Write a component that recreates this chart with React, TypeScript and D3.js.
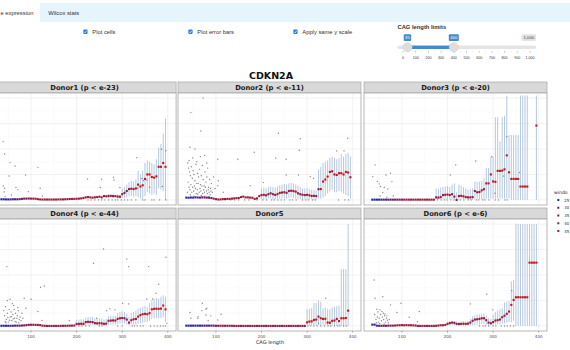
import React from 'react';
import * as d3 from 'd3';

// CAG length bins (window centres)
const cagBins = [35, 40, 45, 50, 55, 60, 65, 70, 75, 80, 85, 90, 95, 100, 105, 110, 115, 120, 125, 130,
  135, 140, 145, 150, 155, 160, 165, 170, 175, 180, 185, 190, 195, 200, 205, 210, 215, 220, 225, 230,
  235, 240, 245, 250, 255, 260, 265, 270, 275, 280, 285, 290, 295, 300, 305, 310, 315, 320, 325, 330,
  335, 340, 345, 350, 355, 360, 365, 370, 375, 380, 385, 390, 395, 400];

const xTicks = [100, 200, 300, 400];
const xMinorTicks = [50, 150, 250, 350];
const yTicks = [0, 2, 4, 6, 8];
const yMinorTicks = [1, 3, 5, 7];
const windowSizes = [25, 30, 35, 40, 45];
const sliderTicks = [0, 100, 200, 300, 400, 500, 600, 700, 800, 900, 1000];
const sliderRange = [35, 400];

const donorTitles = ['Donor1 (p < e-23)', 'Donor2 (p < e-11)', 'Donor3 (p < e-20)',
  'Donor4 (p < e-44)', 'Donor5', 'Donor6 (p < e-6)'];

// mean expression per bin
const meanDonor1 = [0.05, 0.05, 0.04, 0.04, 0.04, 0.05, 0.05, 0.05, 0.06, 0.08,
  0.10, 0.10, 0.11, 0.10, 0.10, 0.09, 0.06, 0.04, 0.03, 0.03,
  0.03, 0.03, 0.03, 0.03, 0.03, 0.04, 0.04, 0.04, 0.05, 0.06,
  0.07, 0.08, 0.08, 0.09, 0.10, 0.12, 0.15, 0.20, 0.22, 0.20,
  0.18, 0.20, 0.22, 0.25, 0.20, 0.30, 0.28, 0.30, 0.32, 0.30,
  0.30, 0.26, 0.25, 0.45, 0.55, 0.70, 0.85, 0.88, 0.85, 0.90,
  1.20, 1.05, 1.15, 1.65, 2.00, 2.00, 1.80, 1.75, 1.85, 2.60,
  2.60, 2.90, 2.60, null];
const meanDonor2 = [0.18, 0.17, 0.19, 0.18, 0.20, 0.19, 0.18, 0.20, 0.19, 0.18,
  0.17, 0.15, 0.10, 0.06, 0.03, 0.04, 0.06, 0.07, 0.08, 0.08,
  0.10, 0.12, 0.14, 0.15, 0.22, 0.26, 0.20, 0.20, 0.18, 0.17,
  0.08, 0.12, 0.30, 0.38, 0.40, 0.36, 0.45, 0.52, 0.45, 0.39,
  0.45, 0.55, 0.58, 0.60, 0.55, 0.70, 0.72, 0.70, 0.65, 0.52,
  0.45, 0.40, 0.38, 0.40, 0.36, 0.31, 0.32, 0.30, 0.84, 0.85,
  1.44, 1.60, 1.83, 2.20, 2.25, 2.00, 1.96, 2.10, 2.10, 2.00,
  2.20, 2.15, 1.78, null];
const meanDonor3 = [0.02, 0.02, 0.02, 0.02, 0.02, 0.02, 0.02, 0.02, 0.02, 0.02,
  0.02, 0.02, 0.02, 0.02, 0.02, 0.02, 0.02, 0.02, 0.02, 0.02,
  0.02, 0.02, 0.02, 0.02, 0.02, 0.02, 0.02, 0.02, 0.20, 0.18,
  0.22, 0.38, 0.40, 0.42, 0.38, 0.45, 0.26, 0.00, 0.30, 0.32,
  0.28, 0.22, 0.20, 0.20, 0.22, 0.70, 0.60, 0.62, 0.75, 0.84,
  1.30, 1.30, 2.00, 1.45, 1.42, 2.28, 2.28, 2.30, 2.40, 3.50,
  2.17, 1.65, 1.65, 1.65, 1.65, 1.05, 1.05, 1.05, 1.05, null,
  null, null, 5.84, null];
const meanDonor4 = [0.01, 0.01, 0.01, 0.01, 0.01, 0.01, 0.02, 0.02, 0.02, 0.03,
  0.04, 0.06, 0.08, 0.09, 0.09, 0.08, 0.08, 0.06, 0.02, 0.01,
  0.00, 0.00, 0.00, 0.00, 0.00, 0.00, 0.00, 0.01, 0.01, 0.01,
  0.02, 0.02, 0.03, 0.15, 0.16, 0.17, 0.16, 0.30, 0.32, 0.31,
  0.30, 0.22, 0.20, 0.21, 0.20, 0.16, 0.18, 0.40, 0.42, 0.43,
  0.42, 0.55, 0.60, 0.62, 0.60, 0.50, 0.26, 0.45, 0.52, 0.55,
  0.73, 0.85, 0.92, 0.95, 0.92, 1.00, 1.30, 1.34, 1.35, 1.34,
  1.36, 1.60, 1.30, null];
const meanDonor5 = [0.02, 0.02, 0.02, 0.02, 0.02, 0.02, 0.02, 0.02, 0.02, 0.02,
  0.02, 0.02, 0.02, 0.01, 0.01, 0.01, 0.01, 0.01, 0.01, 0.01,
  0.01, 0.00, 0.00, 0.00, 0.00, 0.00, 0.00, 0.00, 0.00, 0.00,
  0.00, 0.00, 0.00, 0.00, 0.00, 0.00, 0.00, 0.00, 0.00, 0.00,
  0.00, 0.00, 0.00, 0.00, 0.00, 0.00, 0.00, 0.00, 0.00, 0.00,
  0.00, 0.00, 0.00, 0.28, 0.34, 0.36, 0.47, 0.50, 0.73, 0.60,
  0.55, 0.56, 0.26, 0.25, 0.40, 0.42, 0.55, 0.38, 0.60, 0.60,
  0.62, 1.20, null, null];
const meanDonor6 = [0.10, 0.10, 0.02, 0.01, 0.01, 0.01, 0.01, 0.02, 0.02, 0.02,
  0.03, 0.05, 0.05, 0.06, 0.05, 0.06, 0.05, 0.05, 0.04, 0.03,
  0.00, 0.00, 0.00, 0.00, 0.00, 0.00, 0.00, 0.00, 0.01, 0.03,
  0.05, 0.05, 0.08, 0.16, 0.22, 0.26, 0.24, 0.16, 0.15, 0.16,
  0.17, 0.16, 0.18, 0.26, 0.40, 0.50, 0.52, 0.55, 0.60, 0.60,
  0.45, 0.26, 0.21, 0.30, 0.42, 0.45, 0.50, 0.68, 0.80, 0.95,
  1.13, 1.65, 2.04, 2.25, 2.25, 2.25, 2.25, 2.25, 2.25, 4.97,
  4.97, 4.97, 4.97, null];

// error bars: [cag, lower, upper]
const errDonor1 = [[270, 0.15, 0.45], [280, 0.15, 0.45], [290, 0.1, 0.45], [295, 0.1, 0.4],
  [300, 0.1, 0.9], [305, 0.15, 1.0], [310, 0.2, 1.2], [315, 0.3, 1.4], [320, 0.3, 1.5], [325, 0.25, 1.45],
  [330, 0.3, 1.6], [335, 0.2, 2.3], [340, 0.1, 2.0], [345, 0.1, 2.3], [350, 0.3, 2.9], [355, 0.6, 3.1],
  [360, 0.5, 3.0], [365, 0.4, 2.9], [370, 0.5, 2.8], [375, 0.4, 3.2], [380, 0.9, 4.1], [385, 0.8, 4.4],
  [390, 0.7, 5.2], [395, 0.0, 6.4]];
const errDonor2 = [[200, 0.05, 0.9], [205, 0.05, 0.95], [210, 0.05, 0.9], [215, 0.1, 1.0], [220, 0.1, 1.05],
  [225, 0.05, 1.0], [230, 0.05, 0.95], [235, 0.1, 1.05], [240, 0.1, 1.15], [245, 0.1, 1.2], [250, 0.15, 1.25],
  [255, 0.1, 1.2], [260, 0.15, 1.3], [265, 0.2, 1.35], [270, 0.15, 1.3], [275, 0.1, 1.2], [280, 0.05, 1.1],
  [285, 0.05, 1.0], [290, 0.05, 0.9], [295, 0.05, 0.9], [300, 0.05, 0.95], [305, 0.05, 0.85], [310, 0.05, 0.8],
  [315, 0.05, 0.8], [320, 0.05, 0.75], [325, 0.1, 2.4], [330, 0.1, 2.6], [335, 0.2, 2.9], [340, 0.3, 3.0],
  [345, 0.5, 3.1], [350, 0.7, 3.3], [355, 0.8, 3.4], [360, 0.6, 3.3], [365, 0.6, 3.2], [370, 0.7, 3.3],
  [375, 0.6, 3.6], [380, 0.5, 3.4], [385, 0.4, 3.6], [390, 0.3, 3.7], [395, 0.1, 3.4]];
const errDonor3 = [[175, 0.05, 0.9], [180, 0.05, 0.85], [185, 0.05, 0.95], [190, 0.05, 1.0], [195, 0.05, 1.05],
  [200, 0.05, 1.1], [205, 0.05, 1.0], [210, 0.05, 1.2], [215, 0.05, 1.3], [220, 0, 0.6], [225, 0.05, 1.2],
  [230, 0.05, 1.1], [235, 0.05, 1.0], [240, 0.05, 0.9], [245, 0, 0.8], [250, 0, 0.85], [255, 0, 0.9],
  [260, 0.05, 1.45], [265, 0.05, 1.4], [270, 0.05, 1.45], [275, 0.05, 1.5], [280, 0.05, 1.7], [285, 0.1, 2.5],
  [290, 0.1, 2.5], [295, 0.1, 3.4], [300, 0.1, 3.4], [305, 0.1, 6.5], [310, 0.1, 6.5], [315, 0.1, 4.6],
  [320, 0.1, 6.5], [325, 0.1, 6.6], [330, 0.1, 8.2], [335, 0.1, 5.1], [340, 0, 5.1], [345, 0, 5.1],
  [350, 0, 5.1], [355, 0, 5.1], [360, 0, 8.2], [365, 0, 8.2], [370, 0, 8.2], [375, 0, 8.2], [395, 0, 8.2]];
const errDonor4 = [[200, 0.02, 0.45], [205, 0.02, 0.5], [210, 0.02, 0.52], [215, 0.02, 0.5], [220, 0.05, 0.65],
  [225, 0.05, 0.7], [230, 0.05, 0.68], [235, 0.05, 0.7], [240, 0.02, 0.6], [245, 0.02, 0.55], [250, 0.02, 0.6],
  [255, 0.02, 0.58], [260, 0.02, 0.5], [265, 0.02, 0.55], [270, 0.1, 0.75], [275, 0.1, 0.8], [280, 0.1, 0.8],
  [285, 0.1, 0.78], [290, 0.15, 1.0], [295, 0.2, 1.1], [300, 0.2, 1.15], [305, 0.2, 1.1], [310, 0.1, 0.95],
  [315, 0.02, 0.7], [320, 0.1, 1.0], [325, 0.1, 1.1], [330, 0.1, 1.2], [335, 0.15, 1.35], [340, 0.2, 1.4],
  [345, 0.25, 1.5], [350, 0.3, 1.55], [355, 0.3, 1.5], [360, 0.4, 1.8], [365, 0.55, 2.0], [370, 0.6, 2.1],
  [375, 0.6, 2.2], [380, 0.6, 2.15], [385, 0.6, 2.3], [390, 0.7, 2.4], [395, 0.3, 2.3]];
const errDonor5 = [[300, 0.02, 1.3], [305, 0.02, 1.35], [310, 0.02, 1.4], [315, 0.02, 1.8], [320, 0.02, 1.8],
  [325, 0.05, 2.0], [330, 0.05, 1.9], [335, 0.05, 1.4], [340, 0.05, 1.45], [345, 0, 1.35], [350, 0, 1.3],
  [355, 0.02, 1.45], [360, 0.02, 1.5], [365, 0.02, 1.55], [370, 0.02, 1.6], [375, 0, 4.45], [380, 0, 4.45],
  [385, 0, 4.45], [390, 0, 8.0]];
const errDonor6 = [[200, 0.02, 0.34], [205, 0.02, 0.4], [210, 0.02, 0.42], [215, 0.02, 0.4], [220, 0.02, 0.35],
  [225, 0.02, 0.33], [230, 0.02, 0.35], [235, 0.02, 0.36], [240, 0.02, 0.35], [245, 0.02, 0.4], [250, 0.02, 0.55],
  [255, 0.05, 0.75], [260, 0.05, 0.85], [265, 0.1, 0.9], [270, 0.1, 0.9], [275, 0.15, 0.95], [280, 0.15, 0.95],
  [285, 0.05, 0.8], [290, 0.02, 0.6], [295, 0.02, 0.55], [300, 0.05, 0.9], [305, 0.1, 1.1], [310, 0.1, 1.2],
  [315, 0.1, 1.3], [320, 0.15, 1.4], [325, 0.2, 1.85], [330, 0.25, 1.9], [335, 0.3, 1.95], [340, 0.3, 3.5],
  [345, 0.4, 3.6], [350, 0, 8.0], [355, 0, 8.0], [360, 0, 8.0], [365, 0, 8.0], [370, 0, 8.0], [375, 0, 8.0],
  [380, 0, 8.0], [385, 0, 8.0], [390, 0, 8.0], [395, 0, 8.0]];

// individual cells: [cag, expression]
const cellsDonor1 = [[39, 4.58], [42, 3.61], [54, 2.93], [65, 2.67], [52, 1.88], [39, 1.1], [42, 0.92], [41, 0.63],
  [43, 0.26], [57, 0.39], [67, 0.97], [88, 1.96], [71, 0.81], [94, 0.65], [115, 2.54], [120, 0.92], [125, 0.31],
  [224, 1.65], [255, 1.62], [252, 0.97], [281, 1.78], [282, 1.57], [295, 0.97], [332, 3.32], [334, 0.92],
  [343, 1.68], [347, 1.52], [354, 1.57], [360, 0.99], [386, 3.98], [396, 3.87], [388, 1.05], [382, 0], [396, 0],
  [365, 0], [370, 0], [350, 0], [345, 0], [330, 0], [320, 0], [312, 0], [305, 0], [298, 0], [290, 0], [285, 0],
  [278, 0], [270, 0], [262, 0], [255, 0], [248, 0], [240, 0], [232, 0], [225, 0]];
const cellsDonor2 = [[72, 8.0], [45, 6.86], [67, 5.42], [43, 4.14], [54, 4.0], [75, 3.5], [104, 3.2], [148, 3.2],
  [184, 3.74], [237, 5.24], [285, 4.8], [283, 3.9], [231, 3.3], [254, 3.2], [254, 1.96], [281, 1.96], [307, 1.83],
  [314, 1.7], [365, 3.85], [381, 3.85], [389, 4.84], [105, 1.5], [104, 1.12], [116, 0.6], [175, 1.12], [204, 1.36],
  [369, 0], [383, 0], [391, 0],
  [38, 2.9], [40, 2.5], [42, 2.2], [44, 1.9], [46, 2.6], [48, 1.7], [50, 2.3], [52, 2.0], [54, 1.5], [56, 2.8],
  [58, 1.3], [60, 2.1], [62, 1.8], [64, 2.4], [66, 1.2], [68, 1.9], [70, 2.7], [72, 1.6], [74, 1.1], [76, 2.2],
  [78, 1.4], [80, 1.8], [82, 2.5], [84, 1.0], [86, 1.6], [88, 0.9], [90, 1.3], [39, 1.4], [41, 1.0], [43, 0.8],
  [45, 1.2], [47, 0.6], [49, 1.0], [51, 0.7], [53, 1.1], [55, 0.9], [57, 0.5], [59, 0.8], [61, 1.3], [63, 0.6],
  [65, 0.9], [67, 0.7], [69, 1.1], [71, 0.5], [73, 0.8], [75, 0.6], [77, 1.0], [79, 0.7], [81, 0.5], [83, 0.8],
  [85, 0.6], [87, 0.4], [89, 0.7], [37, 0.6], [44, 0.4], [52, 0.3], [60, 0.45], [68, 0.35], [76, 0.3], [84, 0.25],
  [41, 3.1], [49, 3.3], [58, 3.0], [66, 3.4], [80, 2.9], [92, 0.6], [95, 1.8], [98, 0.9],
  [120, 0], [132, 0], [141, 0], [150, 0], [163, 0], [172, 0], [190, 0], [203, 0], [211, 0], [222, 0], [228, 0],
  [236, 0], [243, 0], [250, 0], [262, 0], [268, 0], [276, 0], [290, 0], [297, 0], [303, 0], [312, 0], [318, 0]];
const cellsDonor3 = [[41, 2.75], [36, 1.83], [46, 1.44], [50, 1.26], [53, 1.05], [61, 0.97], [65, 1.96], [75, 2.1],
  [78, 1.44], [69, 0.86], [58, 0.58], [52, 0.31], [67, 0.21], [81, 0.31], [206, 1.96], [218, 2.75], [262, 3.06],
  [297, 3.4], [304, 0.52], [323, 1.88], [330, 4.97], [358, 2.15],
  [178, 0], [186, 0], [193, 0], [199, 0], [207, 0], [214, 0], [228, 0], [236, 0], [246, 0], [252, 0], [263, 0],
  [268, 0], [277, 0], [282, 0], [291, 0], [305, 0], [312, 0], [326, 0], [331, 0]];
const cellsDonor4 = [[47, 4.66], [121, 3.04], [129, 3.14], [85, 2.17], [100, 2.09], [54, 2.09], [48, 1.99],
  [115, 1.13], [124, 0.42], [89, 1.39], [184, 0.42], [237, 4.92], [259, 6.05], [310, 5.26], [314, 4.66],
  [358, 4.66], [396, 5.39], [380, 3.27], [374, 2.57], [354, 2.12], [367, 2.12], [314, 1.73], [301, 1.78],
  [273, 1.34], [266, 1.2], [284, 1.26], [244, 0.6], [398, 0.2],
  [40, 1.2], [42, 0.8], [44, 1.5], [46, 0.5], [48, 1.0], [50, 0.3], [52, 1.3], [54, 0.7], [56, 1.1], [58, 0.4],
  [60, 0.9], [62, 1.6], [64, 0.6], [66, 1.0], [68, 0.3], [70, 0.8], [72, 1.2], [74, 0.5], [76, 0.7], [78, 0.4],
  [80, 1.0], [82, 0.6], [45, 0.25], [53, 0.45], [57, 0.75], [61, 0.55], [65, 0.35], [69, 0.6], [73, 0.25],
  [49, 0.65], [63, 1.3], [59, 1.75], [71, 1.45], [43, 0.35],
  [205, 0], [212, 0], [220, 0], [228, 0], [250, 0], [256, 0], [290, 0], [300, 0], [322, 0], [327, 0], [333, 0],
  [340, 0], [346, 0], [362, 0], [370, 0], [377, 0], [384, 0], [390, 0], [395, 0]];
const cellsDonor5 = [[43, 1.05], [45, 0.6], [60, 0.6], [61, 0.73], [70, 1.78], [69, 1.2], [78, 1.31], [80, 1.39],
  [78, 0.86], [89, 0.79], [83, 0.42], [104, 0.47], [111, 0.92], [341, 2.17], [325, 0.2],
  [302, 0], [308, 0], [315, 0], [322, 0], [330, 0], [338, 0], [346, 0], [352, 0], [360, 0], [367, 0], [372, 0],
  [380, 0], [386, 0]];
const cellsDonor6 = [[39, 3.61], [41, 2.17], [58, 2.3], [45, 1.31], [52, 1.26], [56, 1.13], [63, 0.94], [67, 0.79],
  [75, 1.65], [89, 1.05], [98, 1.78], [116, 0.68], [138, 1.13], [134, 0.34], [250, 1.73], [286, 2.49],
  [299, 1.26], [341, 2.77],
  [40, 0.9], [43, 0.5], [46, 0.7], [48, 0.3], [50, 0.6], [53, 0.9], [55, 0.4], [57, 0.7], [60, 0.5], [62, 0.8],
  [64, 0.3], [66, 0.6], [68, 0.45], [70, 0.25], [72, 0.5], [47, 1.1], [59, 1.0], [51, 0.2], [44, 0.25], [61, 0.15],
  [270, 0], [278, 0], [283, 0], [290, 0], [300, 0], [306, 0], [318, 0], [325, 0], [331, 0], [338, 0], [345, 0]];

// CAG length at which each window size (25..45) starts
const windowFromDonor1 = [35, 55, 75, 100, 340];
const windowFromDonor2 = [35, 50, 70, 95, 330];
const windowFromDonor3 = [35, 60, 80, 100, 285];
const windowFromDonor4 = [35, 55, 75, 100, 335];
const windowFromDonor5 = [35, 75, 95, 110, 300];
const windowFromDonor6 = [35, 45, 60, 80, 335];

const means = [meanDonor1, meanDonor2, meanDonor3, meanDonor4, meanDonor5, meanDonor6];
const errs = [errDonor1, errDonor2, errDonor3, errDonor4, errDonor5, errDonor6];
const cells = [cellsDonor1, cellsDonor2, cellsDonor3, cellsDonor4, cellsDonor5, cellsDonor6];
const windowFroms = [windowFromDonor1, windowFromDonor2, windowFromDonor3, windowFromDonor4, windowFromDonor5, windowFromDonor6];

const W = 570;
const H = 350;
const colLeft = [-6.9, 178, 364];
const rowTop = [82, 208];
const PW = 183;
const SH = 11;
const PH = 112;

const xScale = d3.scaleLinear().domain([16.75, 418.25]).range([0, PW]);
const yScale = d3.scaleLinear().domain([-0.4, 8.4]).range([PH, 0]);
const colorScale = d3.scaleLinear<string>().domain([25, 45]).range(['#2424a8', '#c21818']).interpolate(d3.interpolateRgb);
const sliderScale = d3.scaleLinear().domain([0, 1000]).range([403, 530]);

const plotFont = '"DejaVu Sans", sans-serif';
const uiFont = '"Liberation Sans", Arial, sans-serif';

function windowFor(cag: number, from: number[]) {
  let w = windowSizes[0];
  from.forEach((c, i) => { if (cag >= c) w = windowSizes[i]; });
  return w;
}

function Checkbox({ x, label }: { x: number; label: string }) {
  return (
    <g>
      <rect x={x} y={29.6} width={4.3} height={4.3} rx={0.8} fill="#2f7de1" />
      <path d={`M${x + 1} ${31.8} L${x + 1.9} ${32.8} L${x + 3.4} ${30.7}`} stroke="#fff" strokeWidth={0.7} fill="none" />
      <text x={x + 9} y={34} fontSize={5.8} fill="#333" fontFamily={uiFont}>{label}</text>
    </g>
  );
}

function Panel({ idx }: { idx: number }) {
  const col = idx % 3;
  const row = Math.floor(idx / 3);
  const left = colLeft[col];
  const top = rowTop[row];
  const mean = means[idx];
  const clipId = `clip${idx}`;
  return (
    <g transform={`translate(${left},${top})`}>
      <rect x={0} y={0} width={PW} height={SH} fill="#d9d9d9" stroke="#a6a6a6" strokeWidth={0.7} />
      <text x={PW / 2} y={SH / 2 + 2.4} textAnchor="middle" fontSize={6.8} fontWeight="bold" fill="#1a1a1a" fontFamily={plotFont}>
        {donorTitles[idx]}
      </text>
      <g transform={`translate(0,${SH})`}>
        <clipPath id={clipId}><rect x={0} y={0} width={PW} height={PH} /></clipPath>
        <rect x={0} y={0} width={PW} height={PH} fill="#fff" />
        {yMinorTicks.map(t => <line key={'ym' + t} x1={0} x2={PW} y1={yScale(t)} y2={yScale(t)} stroke="#f2f2f2" strokeWidth={0.4} />)}
        {xMinorTicks.map(t => <line key={'xm' + t} x1={xScale(t)} x2={xScale(t)} y1={0} y2={PH} stroke="#f2f2f2" strokeWidth={0.4} />)}
        {yTicks.map(t => <line key={'y' + t} x1={0} x2={PW} y1={yScale(t)} y2={yScale(t)} stroke="#e9e9e9" strokeWidth={0.6} />)}
        {xTicks.map(t => <line key={'x' + t} x1={xScale(t)} x2={xScale(t)} y1={0} y2={PH} stroke="#e9e9e9" strokeWidth={0.6} />)}
        <g clipPath={`url(#${clipId})`}>
          {errs[idx].map((e, i) => (
            <line key={'e' + i} x1={xScale(e[0])} x2={xScale(e[0])} y1={yScale(e[1])} y2={yScale(e[2])}
              stroke="#a9bfda" strokeOpacity={0.85} strokeWidth={1} />
          ))}
          {cells[idx].map((c, i) => (
            <circle key={'c' + i} cx={xScale(c[0])} cy={yScale(c[1])} r={0.7} fill="#555" fillOpacity={0.7} />
          ))}
          {cagBins.map((cag, i) => mean[i] == null ? null : (
            <rect key={'m' + i} x={xScale(cag) - 1.05} y={yScale(mean[i] as number) - 1.05} width={2.1} height={2.1}
              fill={colorScale(windowFor(cag, windowFroms[idx]))} />
          ))}
        </g>
        <rect x={0} y={0} width={PW} height={PH} fill="none" stroke="#a6a6a6" strokeWidth={0.8} />
        {row === 1 && xTicks.map(t => (
          <g key={'xt' + t}>
            <line x1={xScale(t)} x2={xScale(t)} y1={PH} y2={PH + 1.5} stroke="#555" strokeWidth={0.5} />
            <text x={xScale(t)} y={PH + 6.8} textAnchor="middle" fontSize={4} fill="#4d4d4d" fontFamily={plotFont}>{t}</text>
          </g>
        ))}
      </g>
    </g>
  );
}

export default function App() {
  return (
    <div style={{ position: 'absolute', left: 0, top: 0, width: W, height: H, background: '#fff' }}>
      <svg width={W} height={H} style={{ display: 'block' }}>
        {/* tab bar */}
        <rect x={40} y={3} width={W - 40} height={19} fill="#e6f4fb" />
        <text x={0.5} y={15.3} fontSize={5.8} fill="#333" fontFamily={uiFont}>e expression</text>
        <text x={48.3} y={15.3} fontSize={5.8} fill="#333" fontFamily={uiFont}>Wilcox stats</text>

        {/* checkboxes */}
        <Checkbox x={83.3} label="Plot cells" />
        <Checkbox x={188.3} label="Plot error bars" />
        <Checkbox x={293.3} label="Apply same y scale" />

        {/* slider */}
        <text x={397.5} y={28.8} fontSize={5.8} fontWeight="bold" fill="#333" fontFamily={uiFont}>CAG length limits</text>
        <rect x={397.5} y={45.6} width={138.5} height={3.4} rx={1.7} fill="#e4e4e4" />
        <rect x={sliderScale(sliderRange[0])} y={45.6} width={sliderScale(sliderRange[1]) - sliderScale(sliderRange[0])} height={3.4} fill="#428bca" />
        {sliderTicks.map(t => (
          <g key={'st' + t}>
            <line x1={sliderScale(t)} x2={sliderScale(t)} y1={50.6} y2={53} stroke="#999" strokeWidth={0.45} />
            {t < 1000 && <line x1={sliderScale(t + 50)} x2={sliderScale(t + 50)} y1={50.6} y2={51.8} stroke="#bbb" strokeWidth={0.4} />}
            <text x={sliderScale(t)} y={58.5} textAnchor="middle" fontSize={3.6} fill="#333" fontFamily={uiFont}>{d3.format(',')(t)}</text>
          </g>
        ))}
        {sliderRange.map(v => (
          <circle key={'h' + v} cx={sliderScale(v)} cy={47.3} r={4.6} fill="#dedede" stroke="#cfcfcf" strokeWidth={0.5} />
        ))}
        {sliderRange.map(v => {
          const label = String(v);
          const w = label.length * 2.6 + 2.2;
          return (
            <g key={'b' + v}>
              <rect x={sliderScale(v) - w / 2} y={34.3} width={w} height={6.6} rx={1} fill="#428bca" />
              <text x={sliderScale(v)} y={39.2} textAnchor="middle" fontSize={4.3} fill="#fff" fontFamily={uiFont}>{label}</text>
            </g>
          );
        })}
        <rect x={521.7} y={34.3} width={14.3} height={6.6} rx={1} fill="#e3e3e3" />
        <text x={528.85} y={39.2} textAnchor="middle" fontSize={4.3} fill="#444" fontFamily={uiFont}>{d3.format(',')(1000)}</text>

        {/* chart title */}
        <text x={271} y={78.5} textAnchor="middle" fontSize={9.5} fontWeight="bold" fill="#111" fontFamily={plotFont}>CDKN2A</text>

        {donorTitles.map((_, i) => <Panel key={i} idx={i} />)}

        <text x={270} y={344} textAnchor="middle" fontSize={5} fill="#222" fontFamily={plotFont}>CAG length</text>

        {/* legend (title cut by the page edge in the original) */}
        <text x={554} y={194} fontSize={4.6} fill="#222" fontFamily={plotFont}>windo</text>
        {windowSizes.map((w, i) => (
          <g key={'l' + w} transform={`translate(0,${200 + i * 7.75})`}>
            <rect x={557.3} y={-1} width={2} height={2} fill={colorScale(w)} />
            <text x={564.3} y={1.5} fontSize={4} fill="#333" fontFamily={plotFont}>{w}</text>
          </g>
        ))}
      </svg>
    </div>
  );
}
